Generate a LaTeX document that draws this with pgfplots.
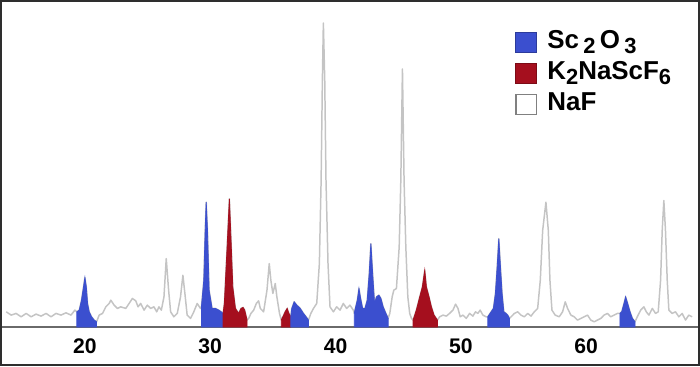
\documentclass[border=0pt]{standalone}
\usepackage{pgfplots}
\pgfplotsset{compat=1.18}
\usepackage{pgfplotstable}
\usepackage{fontspec}
\setmainfont{Liberation Sans}
\definecolor{scblue}{HTML}{3B4FCF}
\definecolor{kred}{HTML}{A50F1E}
\definecolor{tracegray}{HTML}{C4C4C4}
\definecolor{basegray}{HTML}{6A6A6A}
\definecolor{framegray}{HTML}{2E2E2E}
\newcommand{\sub}[1]{\raisebox{-2.4pt}{\fontsize{11}{11}\selectfont #1}}

\pgfplotstableread{
x y
13.72 15.3
14.12 12
14.51 13.7
14.91 10.3
15.31 13.7
15.71 10.3
16.10 13
16.50 11
16.90 13.7
17.30 10.3
17.69 13.7
18.09 12
18.49 14.3
18.89 12
19.20 17
19.36 15.3
19.55 17
19.73 27
19.89 40.3
20.00 49.7
20.11 40.3
20.21 23.7
20.34 15.3
20.53 10.3
20.74 7
20.93 5.3
21.14 12
21.41 13.7
21.67 20.3
21.94 23.7
22.07 27
22.33 22
22.60 18.7
22.86 20.3
23.26 18.7
23.53 23.7
23.79 28.7
24.06 26.3
24.24 20.3
24.45 23.7
24.72 17
24.98 22
25.25 18.7
25.51 20.3
25.73 15.3
25.91 20.3
26.10 17
26.31 30.3
26.49 68.7
26.68 37
26.84 15.3
27.10 10.3
27.37 13.7
27.63 30.3
27.82 52
27.98 33.7
28.16 12
28.43 8.7
28.69 15.3
28.96 23.7
29.22 18.7
29.30 20.3
29.49 47
29.60 97
29.68 125.3
29.78 97
29.91 37
30.15 18.7
30.42 18.7
30.68 17
30.87 15.3
31.03 13.7
31.13 23.7
31.35 80.3
31.53 128.7
31.66 87
31.80 40.3
32.01 18.7
32.27 13.7
32.46 18.7
32.62 19.7
32.75 17
32.94 7
33.07 8.7
33.25 13.7
33.47 17
33.68 23.7
33.86 26.3
34.00 18.7
34.26 15.3
34.53 37
34.71 63.7
34.84 47
35.00 33.7
35.19 43.7
35.32 30.3
35.53 13.7
35.67 7
35.80 10.3
35.98 15.3
36.14 18.7
36.28 13.7
36.43 10.3
36.51 18.7
36.70 25.3
36.91 22
37.18 18.7
37.44 13.7
37.65 10.3
37.84 7
38.03 13.7
38.24 18.7
38.50 23.7
38.71 63.7
38.85 147
38.95 247
39.03 305
39.14 247
39.24 147
39.40 63.7
39.56 20.3
39.83 15.3
40.09 20.3
40.36 17
40.62 23.7
40.89 18.7
41.15 22
41.42 17
41.50 13.7
41.55 17
41.74 27
41.87 38.7
42.00 28.7
42.16 18.7
42.35 18.7
42.53 27
42.69 53.7
42.82 83.7
42.96 53.7
43.11 23.7
43.27 30.3
43.46 32
43.62 28.7
43.80 20.3
44.02 13.7
44.20 8.7
44.33 13.7
44.52 30.3
44.65 37
44.86 38.7
45.08 80.3
45.21 147
45.34 259
45.47 147
45.61 80.3
45.77 30.3
45.92 13.7
46.06 8.7
46.19 7
46.45 17
46.72 30.3
46.93 40.3
47.12 57
47.25 40.3
47.46 30.3
47.65 20.3
47.86 12
48.13 7
48.31 10.3
48.58 12
48.84 11
49.10 13.7
49.37 17
49.58 23
49.77 18.7
49.95 10.3
50.17 12
50.43 8.7
50.70 13.7
50.96 11
51.17 15.3
51.36 13.7
51.54 17
51.76 12
52.02 10.3
52.15 10.3
52.42 15.3
52.60 18.7
52.76 33.7
52.90 60.3
53.03 88.7
53.16 60.3
53.29 33.7
53.43 15.3
53.61 13.7
53.74 12
53.88 8.7
54.01 10.3
54.27 13.7
54.54 15.3
54.80 12
55.07 10.3
55.34 13.7
55.60 11
55.86 15.3
56.13 18.7
56.34 47
56.53 97
56.79 125.3
56.98 97
57.11 47
57.27 17
57.53 12
57.85 10.3
58.12 15.3
58.33 25.3
58.52 18.7
58.78 12
59.05 10.3
59.31 7
59.58 8.7
59.84 10.3
60.11 12
60.37 7
60.64 5.3
60.90 7
61.17 8.7
61.43 12
61.70 13.7
61.96 10.3
62.23 12
62.49 13.7
62.70 13.7
62.84 15.3
63.02 23.7
63.15 30.3
63.31 23.7
63.50 15.3
63.69 8.7
63.90 5.3
64.08 10.3
64.35 17
64.61 20.3
64.80 15.3
65.01 12
65.28 18.7
65.54 13.7
65.75 15.3
65.94 47
66.07 97
66.20 127
66.33 97
66.47 47
66.60 17
66.86 13.7
67.13 15.3
67.40 10.3
67.66 13.7
67.93 7
68.19 12
68.46 10.3
}\trace

\begin{document}
\begin{tikzpicture}
\begin{axis}[
  scale only axis,
  width=350pt, height=182.5pt,
  xmin=13.32, xmax=68.99,
  ymin=-38, ymax=327,
  axis x line=middle,
  axis y line=none,
  x axis line style={-, draw=basegray, line width=1pt},
  xtick={20,30,40,50,60},
  major tick length=0pt,
  /pgf/number format/assume math mode=true,
  xticklabel style={font=\bfseries\fontsize{10.6}{12}\selectfont, yshift=-2.5pt},
  clip=false,
  legend image code/.code={\draw[#1] (0pt,-5pt) rectangle (10.5pt,5pt);},
  legend cell align=left,
  legend style={at={(axis cs:54.3,301)}, anchor=north west, draw=none, fill=none,
    inner sep=0pt, row sep=0pt, column sep=4pt,
    font=\bfseries\fontsize{13}{14}\selectfont,
    nodes={inner sep=1pt, text height=9.5pt, text depth=4pt}},
]
\addlegendimage{fill=scblue, draw=scblue!75!black, line width=0.5pt}
\addlegendentry{Sc\,\sub{2}\,O\,\sub{3}}
\addlegendimage{fill=kred, draw=kred!75!black, line width=0.5pt}
\addlegendentry{K\sub{2}NaScF\sub{6}}
\addlegendimage{fill=white, draw=gray, line width=0.7pt}
\addlegendentry{NaF}

\addplot[forget plot, tracegray, line width=0.75pt, line join=round] table {\trace};

\addplot[forget plot, fill=scblue, draw=scblue, line width=0.4pt, restrict x to domain=19.35:20.94] table {\trace} \closedcycle;
\addplot[forget plot, fill=scblue, draw=scblue, line width=0.4pt, restrict x to domain=29.29:31.04] table {\trace} \closedcycle;
\addplot[forget plot, fill=kred, draw=kred, line width=0.4pt, restrict x to domain=31.02:32.95] table {\trace} \closedcycle;
\addplot[forget plot, fill=kred, draw=kred, line width=0.4pt, restrict x to domain=35.66:36.44] table {\trace} \closedcycle;
\addplot[forget plot, fill=scblue, draw=scblue, line width=0.4pt, restrict x to domain=36.42:37.85] table {\trace} \closedcycle;
\addplot[forget plot, fill=scblue, draw=scblue, line width=0.4pt, restrict x to domain=41.49:44.21] table {\trace} \closedcycle;
\addplot[forget plot, fill=kred, draw=kred, line width=0.4pt, restrict x to domain=46.18:48.14] table {\trace} \closedcycle;
\addplot[forget plot, fill=scblue, draw=scblue, line width=0.4pt, restrict x to domain=52.14:53.89] table {\trace} \closedcycle;
\addplot[forget plot, fill=scblue, draw=scblue, line width=0.4pt, restrict x to domain=62.69:63.91] table {\trace} \closedcycle;

\draw[framegray, line width=1.2pt] (rel axis cs:0,0) rectangle (rel axis cs:1,1);
\end{axis}
\end{tikzpicture}
\end{document}
